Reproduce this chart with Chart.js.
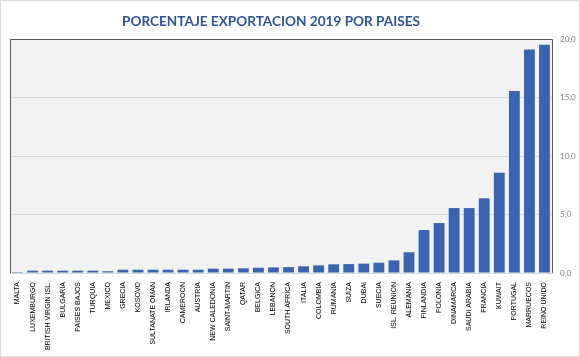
<!DOCTYPE html>
<html>
<head>
<meta charset="utf-8">
<script src="https://cdn.jsdelivr.net/npm/chart.js@4/dist/chart.umd.min.js"></script>
<style>
html,body{margin:0;padding:0;background:#fff;}
#wrap{width:580px;height:357px;position:relative;}
</style>
</head>
<body>
<div id="wrap"><canvas id="c" width="580" height="357"></canvas></div>
<script>
const titleText = "PORCENTAJE EXPORTACION 2019 POR PAISES";
const categories = ["MALTA","LUXEMBURGO","BRITISH VIRGIN ISL.","BULGARIA","PAISES BAJOS","TURQUIA","MEXICO","GRECIA","KOSOVO","SULTANATE OMAN","IRLANDA","CAMEROON","AUSTRIA","NEW CALEDONIA","SAINT-MARTIN","QATAR","BELGICA","LEBANON","SOUTH AFRICA","ITALIA","COLOMBIA","RUMANIA","SUIZA","DUBAI","SUECIA","ISL. REUNION","ALEMANIA","FINLANDIA","POLONIA","DINAMARCA","SAUDI ARABIA","FRANCIA","KUWAIT","PORTUGAL","MARRUECOS","REINO UNIDO"];
const values = [0.08,0.2,0.2,0.2,0.2,0.2,0.15,0.28,0.28,0.28,0.28,0.28,0.28,0.37,0.37,0.4,0.45,0.48,0.5,0.57,0.65,0.74,0.76,0.8,0.88,1.08,1.77,3.67,4.27,5.55,5.55,6.38,8.57,15.55,19.1,19.5];
const yMin = 0, yMax = 20, yStep = 5;

const bgPlugin = {
  id: 'bg',
  beforeDraw(chart) {
    const {ctx, chartArea: a, width, height} = chart;
    ctx.save();
    ctx.fillStyle = '#ffffff';
    ctx.fillRect(0, 0, width, height);
    ctx.strokeStyle = '#d9d9d9';
    ctx.lineWidth = 1;
    ctx.strokeRect(0.5, 0.5, width - 1, height - 1);
    ctx.fillStyle = '#f2f2f2';
    ctx.fillRect(a.left, a.top, a.right - a.left, a.bottom - a.top);
    ctx.restore();
  },
  afterDraw(chart) {
    const {ctx, chartArea: a} = chart;
    const xs = chart.scales.x;
    ctx.save();
    ctx.strokeStyle = '#595959';
    ctx.lineWidth = 1;
    ctx.beginPath();
    ctx.moveTo(Math.round(a.left) + 0.5, Math.round(a.bottom));
    ctx.lineTo(Math.round(a.left) + 0.5, Math.round(a.top) + 0.5);
    ctx.lineTo(Math.round(a.right) + 0.5, Math.round(a.top) + 0.5);
    ctx.lineTo(Math.round(a.right) + 0.5, Math.round(a.bottom));
    ctx.stroke();
    ctx.fillStyle = '#2f5597';
    ctx.font = 'bold 13.6px Lato';
    ctx.textAlign = 'center';
    ctx.textBaseline = 'middle';
    ctx.fillText(titleText, 271, 22);
    ctx.fillStyle = '#000000';
    ctx.font = '7px "Liberation Sans"';
    ctx.textAlign = 'right';
    ctx.textBaseline = 'middle';
    categories.forEach((lab, i) => {
      const x = xs.getPixelForValue(i);
      ctx.save();
      ctx.translate(x, a.bottom + 9);
      ctx.rotate(-Math.PI / 2);
      ctx.fillText(lab, 0, 0);
      ctx.restore();
    });
    ctx.restore();
  }
};

new Chart(document.getElementById('c'), {
  type: 'bar',
  data: {
    labels: categories,
    datasets: [{
      data: values,
      backgroundColor: '#3a63b0',
      borderWidth: 0,
      categoryPercentage: 1.0,
      barPercentage: 0.72
    }]
  },
  options: {
    responsive: false,
    animation: false,
    devicePixelRatio: 1,
    layout: { padding: { left: 10, right: 0, top: 39, bottom: 0 } },
    plugins: {
      legend: { display: false },
      tooltip: { enabled: false },
      title: { display: false }
    },
    scales: {
      x: {
        grid: { display: false },
        border: { display: true, color: '#d9d9d9' },
        ticks: { display: false, autoSkip: false },
        afterFit(s) { s.height = 84; }
      },
      y: {
        position: 'right',
        min: yMin,
        max: yMax,
        grid: { color: '#d9d9d9', drawTicks: false },
        border: { display: false },
        ticks: {
          stepSize: yStep,
          padding: 8,
          color: '#7f7f7f',
          font: { family: 'Lato', size: 8 },
          callback: v => v.toFixed(1).replace('.', ',')
        },
        afterFit(s) { s.width = 28; }
      }
    }
  },
  plugins: [bgPlugin]
});
</script>
</body>
</html>
